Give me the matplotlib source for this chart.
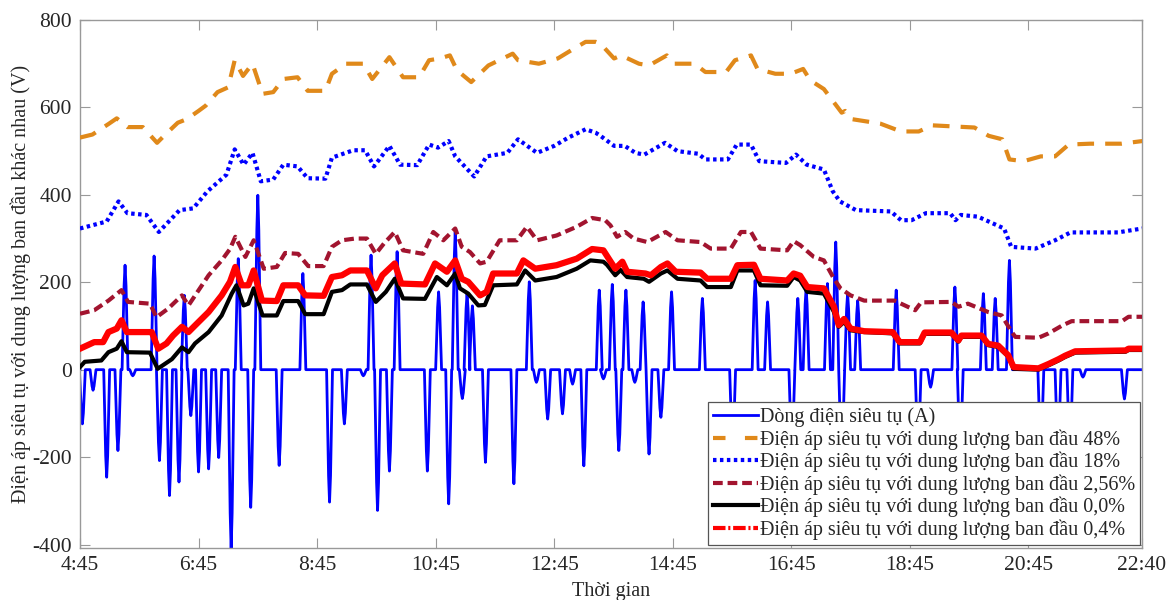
import matplotlib
matplotlib.use("Agg")
import matplotlib.pyplot as plt
from matplotlib.lines import Line2D

plt.rcParams['font.family'] = ['Liberation Serif', 'DejaVu Serif']
plt.rcParams['lines.scale_dashes'] = False

# time in decimal hours
tick_hours = [4.75, 6.75, 8.75, 10.75, 12.75, 14.75, 16.75, 18.75, 20.75, 22 + 40 / 60]
tick_labels = ['4:45', '6:45', '8:45', '10:45', '12:45', '14:45', '16:45', '18:45', '20:45', '22:40']

# supercapacitor current spikes (time, peak A), baseline is 0
spike_t = [4.79, 4.97, 5.20, 5.39, 5.51, 5.64, 6.00, 6.09, 6.26, 6.42, 6.51, 6.62, 6.75, 6.92,
           7.09, 7.30, 7.42, 7.63, 7.75, 8.11, 8.51, 8.96, 9.21, 9.53, 9.66, 9.77, 9.97, 10.10,
           10.61, 10.80, 10.97, 11.08, 11.20, 11.28, 11.37, 11.59, 12.07, 12.33, 12.45, 12.64,
           12.89, 13.06, 13.25, 13.51, 13.58, 13.73, 13.84, 13.96, 14.11, 14.25, 14.35, 14.55,
           14.73, 15.25, 15.76, 16.14, 16.35, 16.76, 16.86, 17.00, 17.36, 17.50, 17.60, 17.70,
           17.87, 18.52, 18.89, 19.10, 19.51, 19.60, 19.99, 20.19, 20.43, 20.96, 21.25, 21.45,
           21.67, 22.37]
spike_a = [-124, -47, -246, -185, 239, -14, 260, -208, -288, -257, 170, -105, -234, -227,
           -201, -410, 254, -315, 399, -219, 220, -303, -124, -14, 262, -322, -232, 270,
           -232, 178, -307, 315, -66, 174, 146, -212, -261, 201, -29, -113,
           -101, -33, -220, 182, -21, 195, -185, 182, -29, 155, -193, -109,
           178, 163, -180, 204, 155, -180, 163, 186, 197, 292, -200, 174,
           158, 182, -180, -40, 189, -180, 174, 163, 250, -180, -180, -180,
           -17, -67]

t_48 = [4.75, 4.96, 5.23, 5.37, 5.55, 5.81, 6.05, 6.19, 6.40, 6.55, 6.75, 6.87, 7.07, 7.25, 7.36,
        7.50, 7.66, 7.83, 8.01, 8.18, 8.42, 8.59, 8.89, 9.00, 9.24, 9.53, 9.68, 9.97, 10.12, 10.20,
        10.47, 10.64, 10.82, 10.99, 11.11, 11.35, 11.64, 12.05, 12.14, 12.49, 12.81, 13.04, 13.28,
        13.45, 13.53, 13.76, 13.88, 14.18, 14.35, 14.65, 14.77, 15.12, 15.30, 15.65, 15.80, 16.07,
        16.18, 16.48, 16.74, 16.95, 17.07, 17.30, 17.45, 17.60, 17.66, 17.78, 18.25, 18.60, 18.90,
        19.13, 19.84, 20.08, 20.31, 20.43, 20.67, 20.96, 21.20, 21.43, 21.79, 22.32, 22.67]
v_48 = [531, 538, 562, 575, 555, 555, 519, 538, 565, 573, 592, 604, 635, 646, 708,
        672, 700, 631, 635, 665, 669, 638, 638, 677, 700, 700, 665, 715, 685, 669,
        669, 708, 712, 719, 685, 658, 696, 723, 708, 700, 712, 731, 750,
        750, 746, 712, 719, 700, 696, 719, 700, 700, 681, 681, 708, 719,
        688, 677, 677, 688, 662, 642, 615, 588, 592, 573, 563, 545, 545,
        559, 554, 535, 527, 481, 477, 488, 488, 515, 517, 517, 523]

t_18 = [4.75, 5.20, 5.40, 5.55, 5.87, 6.08, 6.43, 6.66, 6.90, 7.22, 7.36, 7.51, 7.66, 7.80, 8.01,
        8.18, 8.42, 8.59, 8.89, 9.00, 9.36, 9.56, 9.71, 9.97, 10.15, 10.44, 10.64, 10.79, 10.97,
        11.08, 11.40, 11.61, 11.96, 12.14, 12.46, 12.75, 12.99, 13.28, 13.45, 13.53, 13.76, 13.94,
        14.12, 14.27, 14.62, 14.83, 15.18, 15.30, 15.68, 15.83, 16.07, 16.21, 16.66, 16.83, 17.01,
        17.30, 17.45, 17.57, 17.84, 18.43, 18.60, 18.78, 19.02, 19.43, 19.52, 19.61, 19.90, 20.34,
        20.46, 20.87, 21.20, 21.46, 22.26, 22.67]
v_18 = [323, 339, 385, 358, 354, 315, 365, 369, 408, 446, 504, 469, 496, 431, 435,
        469, 465, 438, 437, 485, 502, 502, 465, 512, 469, 468, 515, 508, 523,
        488, 442, 488, 496, 527, 496, 512, 531, 550, 542, 535, 512, 512,
        496, 492, 519, 500, 494, 481, 481, 515, 515, 477, 473, 492, 469,
        458, 408, 385, 365, 362, 342, 342, 358, 358, 342, 354, 350, 323,
        281, 277, 296, 314, 314, 323]

t_256 = [4.75, 4.99, 5.23, 5.45, 5.56, 5.93, 6.04, 6.24, 6.47, 6.58, 6.92, 7.14, 7.28, 7.37, 7.54,
         7.68, 7.85, 8.07, 8.21, 8.43, 8.60, 8.86, 9.00, 9.17, 9.39, 9.59, 9.74, 9.88, 10.06, 10.20,
         10.54, 10.71, 10.88, 11.08, 11.19, 11.33, 11.50, 11.61, 11.83, 12.12, 12.29, 12.46, 12.79,
         13.13, 13.39, 13.61, 13.70, 13.81, 13.95, 14.09, 14.32, 14.63, 14.83, 15.22, 15.39, 15.73,
         15.90, 16.07, 16.23, 16.68, 16.79, 16.90, 17.13, 17.30, 17.47, 17.58, 17.75, 17.98, 18.49,
         18.84, 18.94, 19.45, 19.57, 19.73, 20.07, 20.30, 20.47, 20.53, 20.92, 21.09, 21.32, 21.48,
         22.33, 22.44, 22.67]
v_256 = [128, 136, 158, 182, 155, 151, 120, 140, 170, 147, 216, 250, 276, 304, 258,
         296, 231, 235, 267, 265, 237, 237, 281, 296, 300, 300, 265, 289, 315, 273,
         265, 315, 296, 323, 281, 269, 243, 247, 296, 296, 327, 296, 307,
         327, 347, 342, 330, 304, 315, 300, 292, 315, 296, 292, 277, 277,
         315, 315, 277, 273, 294, 285, 258, 250, 208, 186, 170, 158, 158,
         136, 154, 155, 144, 151, 132, 124, 86, 75, 73, 83, 101, 111,
         111, 121, 121]

t_00 = [4.75, 4.83, 5.11, 5.23, 5.37, 5.45, 5.54, 5.93, 6.06, 6.18, 6.30, 6.47, 6.58, 6.69, 6.92,
        7.14, 7.31, 7.39, 7.51, 7.59, 7.68, 7.83, 8.07, 8.18, 8.43, 8.55, 8.86, 9.00, 9.17, 9.31,
        9.59, 9.74, 9.91, 10.06, 10.20, 10.57, 10.77, 10.94, 11.08, 11.16, 11.30, 11.47, 11.58,
        11.72, 12.12, 12.26, 12.43, 12.79, 13.13, 13.36, 13.58, 13.64, 13.78, 13.87, 13.98, 14.26,
        14.35, 14.55, 14.66, 14.83, 15.22, 15.33, 15.73, 15.84, 16.12, 16.23, 16.68, 16.79, 16.90,
        17.02, 17.30, 17.47, 17.55, 17.64, 17.75, 17.98, 18.46, 18.58, 18.92, 19.00, 19.45, 19.57,
        19.62, 19.96, 20.07, 20.24, 20.41, 20.50, 20.92, 21.09, 21.26, 21.37, 21.54, 22.39, 22.44,
        22.67]
v_00 = [6, 18, 21, 40, 48, 65, 40, 39, 2, 13, 24, 51, 40, 60, 86,
        124, 174, 193, 147, 151, 186, 124, 124, 157, 157, 127, 127, 178, 182, 195,
        195, 155, 178, 208, 163, 162, 212, 193, 220, 186, 174, 147, 148,
        193, 195, 227, 204, 212, 231, 250, 247, 240, 216, 228, 212, 208,
        201, 220, 227, 208, 204, 189, 189, 227, 227, 193, 192, 212, 204,
        178, 174, 132, 98, 109, 90, 86, 83, 60, 60, 82, 82, 64,
        75, 75, 56, 52, 30, 2, 0, 10, 21, 29, 39, 41, 45,
        45]

t_04 = [4.75, 4.99, 5.14, 5.23, 5.37, 5.45, 5.54, 5.96, 6.07, 6.21, 6.32, 6.47, 6.58, 6.69, 6.92,
        7.14, 7.28, 7.37, 7.48, 7.59, 7.68, 7.82, 8.07, 8.18, 8.43, 8.55, 8.86, 9.00, 9.17, 9.31,
        9.59, 9.74, 9.85, 10.06, 10.17, 10.57, 10.74, 10.94, 11.08, 11.19, 11.30, 11.50, 11.61,
        11.72, 12.12, 12.23, 12.43, 12.79, 13.13, 13.39, 13.58, 13.67, 13.78, 13.90, 13.98, 14.29,
        14.38, 14.55, 14.66, 14.80, 15.22, 15.33, 15.73, 15.84, 16.12, 16.23, 16.68, 16.79, 16.90,
        17.02, 17.30, 17.47, 17.55, 17.64, 17.75, 17.98, 18.46, 18.58, 18.92, 19.00, 19.45, 19.57,
        19.62, 19.96, 20.07, 20.24, 20.41, 20.50, 20.92, 21.09, 21.26, 21.37, 21.54, 22.39, 22.44,
        22.67]
v_04 = [48, 63, 63, 86, 94, 113, 86, 86, 48, 60, 78, 98, 86, 101, 132,
        170, 201, 235, 193, 193, 227, 158, 157, 193, 193, 170, 169, 212, 216, 227,
        227, 186, 216, 243, 197, 195, 243, 224, 250, 208, 201, 170, 178,
        220, 220, 250, 231, 239, 254, 276, 273, 254, 231, 247, 224, 220,
        216, 235, 243, 224, 222, 208, 208, 239, 240, 208, 204, 220, 215,
        189, 186, 144, 102, 116, 94, 88, 86, 63, 63, 85, 85, 67,
        78, 78, 59, 55, 33, 6, 3, 13, 24, 32, 42, 44, 48,
        48]

labels = ['Dòng điện siêu tụ (A)',
          'Điện áp siêu tụ với dung lượng ban đầu 48%',
          'Điện áp siêu tụ với dung lượng ban đầu 18%',
          'Điện áp siêu tụ với dung lượng ban đầu 2,56%',
          'Điện áp siêu tụ với dung lượng ban đầu 0,0%',
          'Điện áp siêu tụ với dung lượng ban đầu 0,4%']

# current trace: flat zero with narrow spikes
half_w = 0.05
cur_t, cur_v = [tick_hours[0]], [0]
for t, a in zip(spike_t, spike_a):
    cur_t += [t - half_w, t - half_w / 3, t, t + half_w / 3, t + half_w]
    cur_v += [0, 0.8 * a, a, 0.8 * a, 0]
cur_t.append(tick_hours[-1])
cur_v.append(0)

orange = '#E0891A'
maroon = '#A2142F'
text_col = '#262626'

fig = plt.figure(figsize=(11.68, 6.0), dpi=100)
ax = fig.add_axes([80 / 1168, 52 / 600, 1062 / 1168, 528 / 600])

ax.plot(cur_t, cur_v, color='#0000FF', lw=2.0, zorder=2)
ax.plot(t_48, v_48, color=orange, lw=3.0, dashes=(12, 8), zorder=3)
ax.plot(t_18, v_18, color='#0000FF', lw=3.0, dashes=(2.5, 2.5), zorder=3)
ax.plot(t_256, v_256, color=maroon, lw=3.0, dashes=(7, 3.5), zorder=3)
ax.plot(t_00, v_00, color='black', lw=3.0, zorder=4)
ax.plot(t_04, v_04, color='#FF0000', lw=4.5, zorder=5)

ax.set_xlim(tick_hours[0], tick_hours[-1])
ax.set_ylim(-408, 800)
ax.set_xticks(tick_hours)
ax.set_xticklabels(tick_labels)
ax.set_yticks([-400, -200, 0, 200, 400, 600, 800])
ax.set_yticklabels(['-400', '-200', '0', '200', '400', '600', '800'])
ax.tick_params(direction='in', length=7, width=0.8, colors='#999999', labelcolor=text_col,
               labelsize=15.5, top=True, right=True, pad=6)
for s in ax.spines.values():
    s.set_color('#999999')
    s.set_linewidth(1.0)

ax.set_xlabel('Thời gian', fontsize=14.5, color=text_col, labelpad=5)
ax.set_ylabel('Điện áp siêu tụ với dung lượng ban đầu khác nhau (V)', fontsize=14.5,
              color=text_col, labelpad=1)

handles = [
    Line2D([], [], color='#0000FF', lw=2.0),
    Line2D([], [], color=orange, lw=3.0, dashes=(9, 14)),
    Line2D([], [], color='#0000FF', lw=3.0, dashes=(2.5, 2.5)),
    Line2D([], [], color=maroon, lw=3.0, dashes=(7, 3.5)),
    Line2D([], [], color='black', lw=3.0),
    Line2D([], [], color='#FF0000', lw=3.0, dashes=(9, 2, 1.5, 2)),
]
leg = ax.legend(handles, labels, loc='lower right', bbox_to_anchor=(0.998, 0.006),
                borderaxespad=0, fontsize=14.5, handlelength=2.2, handletextpad=0.1,
                labelspacing=0.1, borderpad=0.25, fancybox=False, framealpha=1,
                edgecolor='#555555')
leg.get_frame().set_linewidth(0.9)
for txt in leg.get_texts():
    txt.set_color(text_col)

fig.savefig('out.png', dpi=100)
